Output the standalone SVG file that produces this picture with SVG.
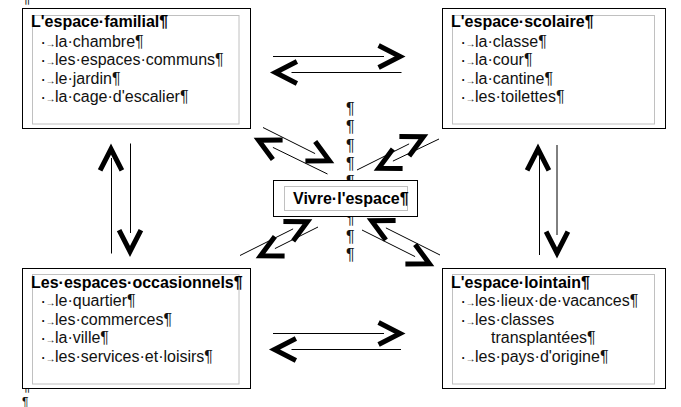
<svg xmlns="http://www.w3.org/2000/svg" width="681" height="407" viewBox="0 0 681 407">
<style>
text{font-family:"Liberation Sans",Arial,sans-serif;font-size:16px;fill:#000}
.t{font-weight:bold}
.it{fill:#111}
.d{font-size:12px;font-weight:bold}
.a{font-size:10px}
.pm{fill:#111}
.outer{fill:#fff;stroke:#000;stroke-width:1}
.inner{fill:none;stroke:#c0c0c0;stroke-width:1}
.ln{stroke:#000;stroke-width:1;fill:none}
.hd{stroke:#000;stroke-width:5;fill:none;stroke-linejoin:miter;stroke-miterlimit:10;stroke-linecap:butt}
</style>
<rect width="681" height="407" fill="#fff"/>
<g id="marks">
<text class="pm" x="22" y="2.5">¶</text>
<text class="pm" x="22" y="391">¶</text>
<text class="pm" x="22" y="405.5" style="font-size:12px">¶</text>
<text class="pm" x="346" y="114">¶</text>
<text class="pm" x="346" y="132.3">¶</text>
<text class="pm" x="346" y="150.6">¶</text>
<text class="pm" x="346" y="168.9">¶</text>
<text class="pm" x="346" y="187.2">¶</text>
<text class="pm" x="346" y="223.8">¶</text>
<text class="pm" x="346" y="242.1">¶</text>
<text class="pm" x="346" y="260.4">¶</text>
</g>
<g id="connectors">
<line class="ln" x1="273" y1="56.5" x2="384" y2="56.5"/>
<path class="hd" d="M378.6,45.6 L400,56.5 L378.6,67.4"/>
<line class="ln" x1="291.5" y1="72.5" x2="401.5" y2="72.5"/>
<path class="hd" d="M296.9,61.6 L275.5,72.5 L296.9,83.4"/>
<line class="ln" x1="273" y1="333.5" x2="384" y2="333.5"/>
<path class="hd" d="M378.6,322.6 L400,333.5 L378.6,344.4"/>
<line class="ln" x1="291.5" y1="349.5" x2="401" y2="349.5"/>
<path class="hd" d="M295.9,338.6 L274.5,349.5 L295.9,360.4"/>
<line class="ln" x1="111.5" y1="158" x2="111.5" y2="253.5"/>
<path class="hd" d="M100.1,170.4 L111,149 L121.9,170.4"/>
<line class="ln" x1="130.5" y1="143.5" x2="130.5" y2="233"/>
<path class="hd" d="M119.1,230.1 L130,251.5 L140.9,230.1"/>
<line class="ln" x1="539.5" y1="157" x2="539.5" y2="255"/>
<path class="hd" d="M527.1,170.4 L538,149 L548.9,170.4"/>
<line class="ln" x1="557" y1="145" x2="557" y2="235"/>
<path class="hd" d="M546.1,231.6 L557,253 L567.9,231.6"/>
<line class="ln" x1="263" y1="127.5" x2="315.1" y2="153.6"/>
<path class="hd" d="M315.2,141.4 L329.4,160.7 L305.4,160.9"/>
<line class="ln" x1="327.5" y1="174" x2="272.9" y2="147.4"/>
<path class="hd" d="M272.85,159.6 L258.6,140.3 L282.6,140.1"/>
<line class="ln" x1="357" y1="170" x2="409.1" y2="143.9"/>
<path class="hd" d="M399.4,136.6 L423.4,136.8 L409.15,156.1"/>
<line class="ln" x1="439" y1="139" x2="392.9" y2="161.1"/>
<path class="hd" d="M402.6,168.4 L378.6,168.2 L392.85,148.9"/>
<line class="ln" x1="240" y1="255.5" x2="293.1" y2="228.9"/>
<path class="hd" d="M283.4,221.6 L307.4,221.8 L293.15,241.1"/>
<line class="ln" x1="318" y1="227" x2="274.9" y2="248.6"/>
<path class="hd" d="M284.6,255.9 L260.6,255.7 L274.85,236.4"/>
<line class="ln" x1="362" y1="230" x2="415.1" y2="256.6"/>
<path class="hd" d="M415.15,244.4 L429.4,263.7 L405.4,263.9"/>
<line class="ln" x1="440" y1="255" x2="385.9" y2="227.9"/>
<path class="hd" d="M385.85,240.1 L371.6,220.8 L395.6,220.6"/>
</g>
<g id="node-familial">
<rect class="outer" x="22.5" y="8.5" width="228" height="120"/>
<rect class="inner" x="32.5" y="15.5" width="206.5" height="108.5"/>
<text class="t" x="31" y="27">L'espace·familial¶</text>
<text class="it" x="41.5" y="46.5"><tspan class="d">·</tspan><tspan class="a">→</tspan><tspan x="55">la·chambre¶</tspan></text>
<text class="it" x="41.5" y="65"><tspan class="d">·</tspan><tspan class="a">→</tspan><tspan x="55">les·espaces·communs¶</tspan></text>
<text class="it" x="41.5" y="83.5"><tspan class="d">·</tspan><tspan class="a">→</tspan><tspan x="55">le·jardin¶</tspan></text>
<text class="it" x="41.5" y="102"><tspan class="d">·</tspan><tspan class="a">→</tspan><tspan x="55">la·cage·d'escalier¶</tspan></text>
</g>
<g id="node-scolaire">
<rect class="outer" x="442.5" y="8.5" width="223" height="120"/>
<rect class="inner" x="452.5" y="15.5" width="202" height="108.5"/>
<text class="t" x="451" y="27">L'espace·scolaire¶</text>
<text class="it" x="461.5" y="46.5"><tspan class="d">·</tspan><tspan class="a">→</tspan><tspan x="475">la·classe¶</tspan></text>
<text class="it" x="461.5" y="65"><tspan class="d">·</tspan><tspan class="a">→</tspan><tspan x="475">la·cour¶</tspan></text>
<text class="it" x="461.5" y="83.5"><tspan class="d">·</tspan><tspan class="a">→</tspan><tspan x="475">la·cantine¶</tspan></text>
<text class="it" x="461.5" y="102"><tspan class="d">·</tspan><tspan class="a">→</tspan><tspan x="475">les·toilettes¶</tspan></text>
</g>
<g id="node-occasionnels">
<rect class="outer" x="22.5" y="268.5" width="228" height="120"/>
<rect class="inner" x="32.5" y="274.5" width="206.5" height="109.5"/>
<text class="t" x="31" y="287.5">Les·espaces·occasionnels¶</text>
<text class="it" x="41.5" y="306"><tspan class="d">·</tspan><tspan class="a">→</tspan><tspan x="55">le·quartier¶</tspan></text>
<text class="it" x="41.5" y="324.5"><tspan class="d">·</tspan><tspan class="a">→</tspan><tspan x="55">les·commerces¶</tspan></text>
<text class="it" x="41.5" y="343"><tspan class="d">·</tspan><tspan class="a">→</tspan><tspan x="55">la·ville¶</tspan></text>
<text class="it" x="41.5" y="361.5"><tspan class="d">·</tspan><tspan class="a">→</tspan><tspan x="55">les·services·et·loisirs¶</tspan></text>
</g>
<g id="node-lointain">
<rect class="outer" x="442.5" y="268.5" width="223" height="120"/>
<rect class="inner" x="452.5" y="274.5" width="202" height="109.5"/>
<text class="t" x="451" y="287.5">L'espace·lointain¶</text>
<text class="it" x="461.5" y="306"><tspan class="d">·</tspan><tspan class="a">→</tspan><tspan x="475">les·lieux·de·vacances¶</tspan></text>
<text class="it" x="461.5" y="324.5"><tspan class="d">·</tspan><tspan class="a">→</tspan><tspan x="475">les·classes</tspan></text>
<text class="it" x="491" y="343">transplantées¶</text>
<text class="it" x="461.5" y="361.5"><tspan class="d">·</tspan><tspan class="a">→</tspan><tspan x="475">les·pays·d'origine¶</tspan></text>
</g>
<g id="node-vivre">
<rect class="outer" x="273.5" y="180.5" width="144" height="36"/>
<rect class="inner" x="284.5" y="186.5" width="123" height="24"/>
<text class="t" x="293" y="204">Vivre·l'espace¶</text>
</g>
</svg>
